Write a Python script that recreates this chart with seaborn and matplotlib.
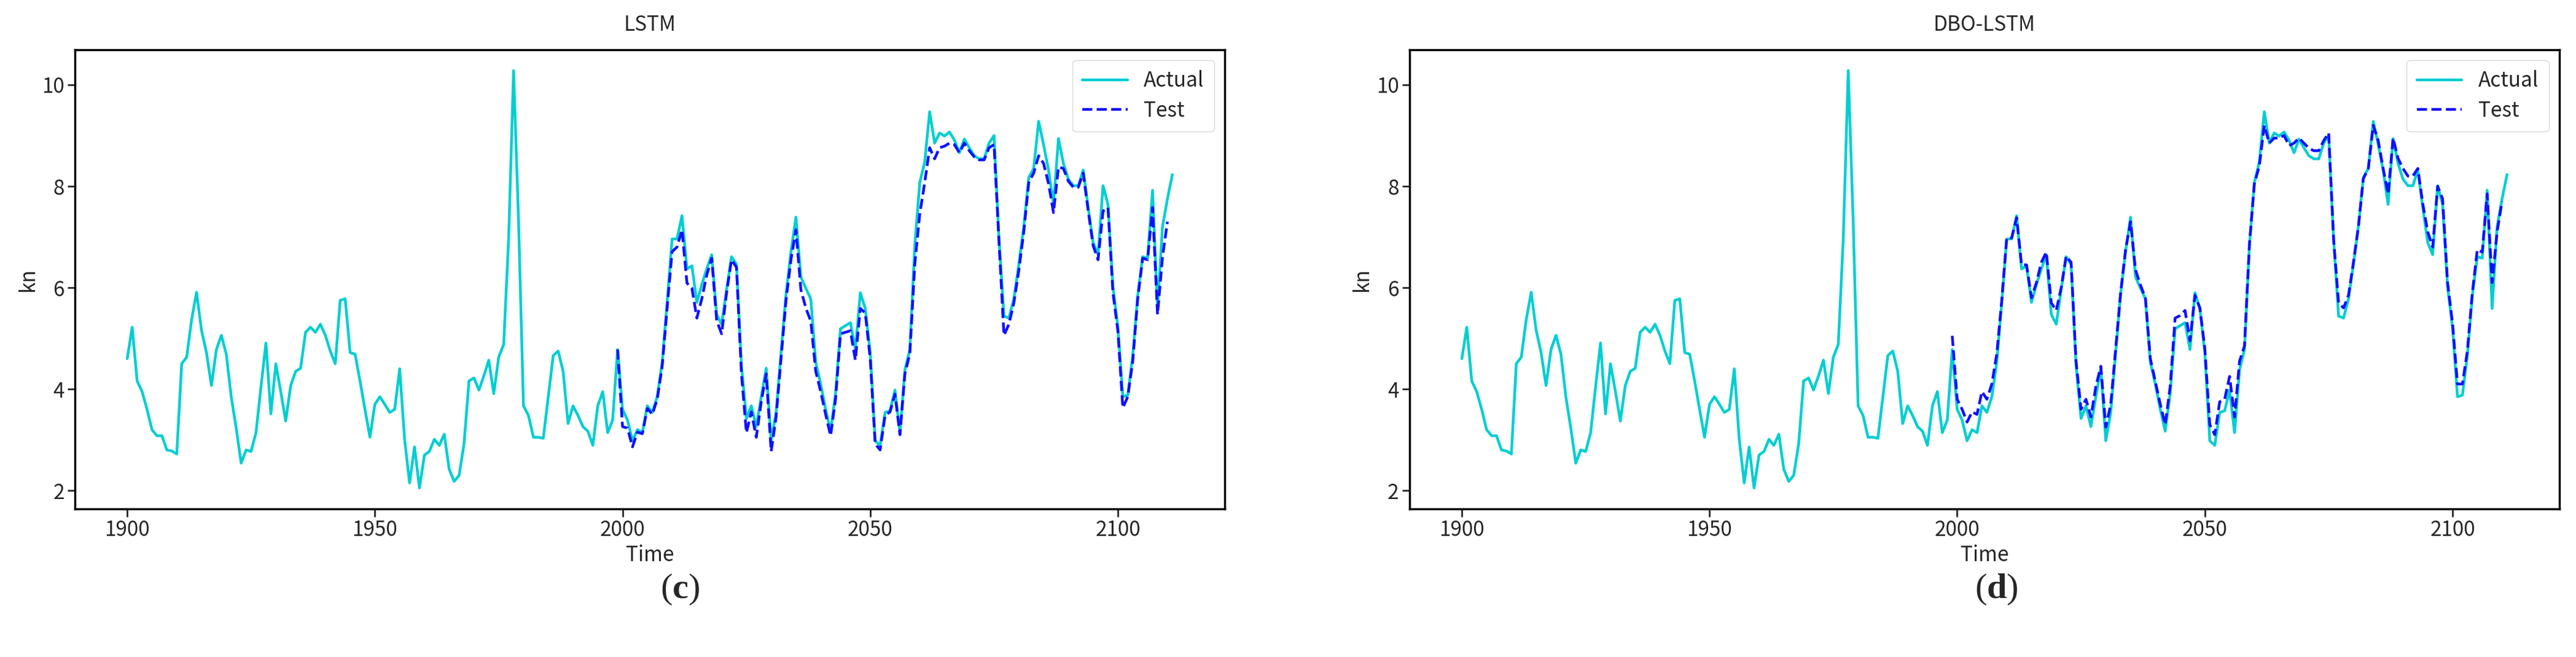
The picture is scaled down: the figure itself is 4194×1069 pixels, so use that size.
import numpy as np
import pandas as pd
import matplotlib
matplotlib.use("Agg")
import matplotlib.pyplot as plt
import seaborn as sns

years_actual = list(range(1900, 2112))
years_test = list(range(1999, 2111))

actual = [
    4.60, 5.22, 4.16, 3.95, 3.60, 3.20, 3.08, 3.08, 2.80, 2.78,
    2.72, 4.50, 4.63, 5.37, 5.91, 5.16, 4.72, 4.07, 4.78, 5.06,
    4.69, 3.85, 3.23, 2.54, 2.80, 2.77, 3.14, 4.04, 4.91, 3.51,
    4.50, 3.95, 3.37, 4.07, 4.35, 4.41, 5.12, 5.22, 5.12, 5.28,
    5.06, 4.75, 4.50, 5.75, 5.78, 4.72, 4.69, 4.16, 3.60, 3.05,
    3.70, 3.85, 3.70, 3.54, 3.60, 4.40, 3.01, 2.15, 2.86, 2.05,
    2.70, 2.77, 3.01, 2.89, 3.11, 2.42, 2.18, 2.30, 2.92, 4.16,
    4.22, 3.98, 4.26, 4.57, 3.91, 4.63, 4.88, 6.96, 10.28, 7.33,
    3.67, 3.48, 3.05, 3.05, 3.03, 3.85, 4.66, 4.75, 4.35, 3.32,
    3.67, 3.48, 3.26, 3.17, 2.89, 3.67, 3.95, 3.14, 3.39, 4.78,
    3.60, 3.39, 2.98, 3.20, 3.14, 3.67, 3.54, 3.85, 4.53, 5.71,
    6.96, 6.96, 7.42, 6.37, 6.43, 5.71, 6.06, 6.37, 6.65, 5.47,
    5.28, 5.96, 6.61, 6.46, 4.47, 3.42, 3.67, 3.26, 3.85, 4.41,
    2.98, 3.54, 4.72, 5.87, 6.71, 7.39, 6.21, 5.99, 5.78, 4.53,
    4.10, 3.60, 3.17, 3.91, 5.19, 5.25, 5.31, 4.78, 5.90, 5.59,
    4.72, 2.98, 2.89, 3.54, 3.57, 3.98, 3.14, 4.38, 4.78, 6.83,
    8.07, 8.48, 9.47, 8.85, 9.05, 8.99, 9.07, 8.91, 8.66, 8.93,
    8.76, 8.60, 8.54, 8.54, 8.85, 9.00, 6.96, 5.44, 5.40, 5.78,
    6.46, 7.20, 8.17, 8.35, 9.28, 8.82, 8.32, 7.64, 8.94, 8.45,
    8.14, 8.01, 8.01, 8.32, 7.58, 6.89, 6.65, 8.01, 7.64, 6.02,
    5.22, 3.85, 3.88, 4.66, 5.84, 6.61, 6.58, 7.92, 5.59, 7.20,
    7.75, 8.23,
]

lstm_test = [
    4.78,
    3.26, 3.23, 2.86, 3.15, 3.12, 3.62, 3.50, 3.80, 4.45, 5.60,
    6.71, 6.80, 7.14, 6.09, 5.99, 5.40, 5.78, 6.25, 6.58, 5.35,
    5.09, 5.90, 6.55, 6.40, 4.30, 3.14, 3.55, 3.05, 3.75, 4.30,
    2.77, 3.45, 4.60, 5.75, 6.55, 7.14, 5.96, 5.60, 5.34, 4.35,
    3.95, 3.50, 3.08, 3.80, 5.09, 5.12, 5.15, 4.57, 5.59, 5.50,
    4.60, 2.92, 2.80, 3.48, 3.55, 3.90, 3.10, 4.30, 4.70, 6.46,
    7.45, 8.07, 8.76, 8.54, 8.76, 8.79, 8.85, 8.82, 8.66, 8.85,
    8.70, 8.58, 8.52, 8.52, 8.76, 8.82, 6.90, 5.06, 5.28, 5.70,
    6.34, 7.10, 8.07, 8.26, 8.60, 8.45, 8.05, 7.48, 8.38, 8.35,
    8.10, 7.98, 7.98, 8.26, 7.52, 6.83, 6.55, 7.51, 7.58, 5.90,
    5.15, 3.63, 3.85, 4.55, 5.78, 6.58, 6.55, 7.58, 5.47, 6.60,
    7.30,
]

dbo_test = [
    5.05,
    3.80, 3.60, 3.35, 3.55, 3.50, 3.95, 3.80, 4.10, 4.70, 5.75,
    6.98, 6.98, 7.38, 6.45, 6.45, 5.80, 6.10, 6.50, 6.70, 5.70,
    5.55, 6.00, 6.62, 6.50, 4.55, 3.60, 3.80, 3.45, 4.05, 4.45,
    3.25, 3.70, 4.80, 5.90, 6.75, 7.30, 6.35, 6.05, 5.80, 4.60,
    4.15, 3.70, 3.30, 4.05, 5.40, 5.45, 5.55, 4.95, 5.85, 5.60,
    4.80, 3.30, 3.10, 3.75, 3.80, 4.25, 3.45, 4.55, 4.85, 6.85,
    8.05, 8.40, 9.20, 8.85, 8.95, 8.95, 9.00, 8.80, 8.85, 8.95,
    8.85, 8.75, 8.70, 8.70, 8.90, 9.05, 6.95, 5.70, 5.60, 5.85,
    6.50, 7.20, 8.15, 8.35, 9.20, 8.90, 8.35, 7.85, 8.95, 8.55,
    8.35, 8.20, 8.20, 8.35, 7.65, 7.10, 6.80, 8.00, 7.75, 6.10,
    5.30, 4.10, 4.10, 4.75, 5.90, 6.75, 6.70, 7.85, 6.10, 7.10,
    7.70,
]

titles = ["LSTM", "DBO-LSTM"]
captions = ["c", "d"]
x_ticks = [1900, 1950, 2000, 2050, 2100]
y_ticks = [2, 4, 6, 8, 10]

sns.set_style("white")
plt.rcParams["font.family"] = ["Noto Sans CJK SC", "DejaVu Sans"]
plt.rcParams["mathtext.fontset"] = "custom"
plt.rcParams["mathtext.rm"] = "Liberation Serif"
plt.rcParams["mathtext.bf"] = "Liberation Serif:bold"

fig = plt.figure(figsize=(41.94, 10.69), dpi=100)
axes = [fig.add_axes([0.0291, 0.2255, 0.4463, 0.6988]),
        fig.add_axes([0.5472, 0.2255, 0.4463, 0.6988])]

df_a = pd.DataFrame({"Time": years_actual, "kn": actual})
cap_x = [0.264, 0.775]
for ax, title, test, cap, cx in zip(axes, titles, [lstm_test, dbo_test], captions, cap_x):
    df_t = pd.DataFrame({"Time": years_test, "kn": test})
    sns.lineplot(data=df_a, x="Time", y="kn", ax=ax, color="#00CED1",
                 linewidth=3.2, label="Actual")
    sns.lineplot(data=df_t, x="Time", y="kn", ax=ax, color="#1010FF",
                 linewidth=3.2, linestyle="--", label="Test")
    ax.set_title(title, fontsize=24, pad=22)
    ax.set_xlabel("Time", fontsize=24)
    ax.set_ylabel("kn", fontsize=24)
    ax.set_xticks(x_ticks)
    ax.set_yticks(y_ticks)
    ax.tick_params(axis="both", labelsize=24, length=9, width=2,
                   direction="out", bottom=True, left=True)
    for s in ax.spines.values():
        s.set_color("black")
        s.set_linewidth(2.5)
    ax.legend(loc="upper right", fontsize=24, handlelength=2.2,
              borderpad=0.5, labelspacing=0.4)
    fig.text(cx, 0.105, r"$\mathrm{(}\mathbf{" + cap + r"}\mathrm{)}$",
             fontsize=42, ha="center", va="center")

fig.savefig("out.png", dpi=100)
